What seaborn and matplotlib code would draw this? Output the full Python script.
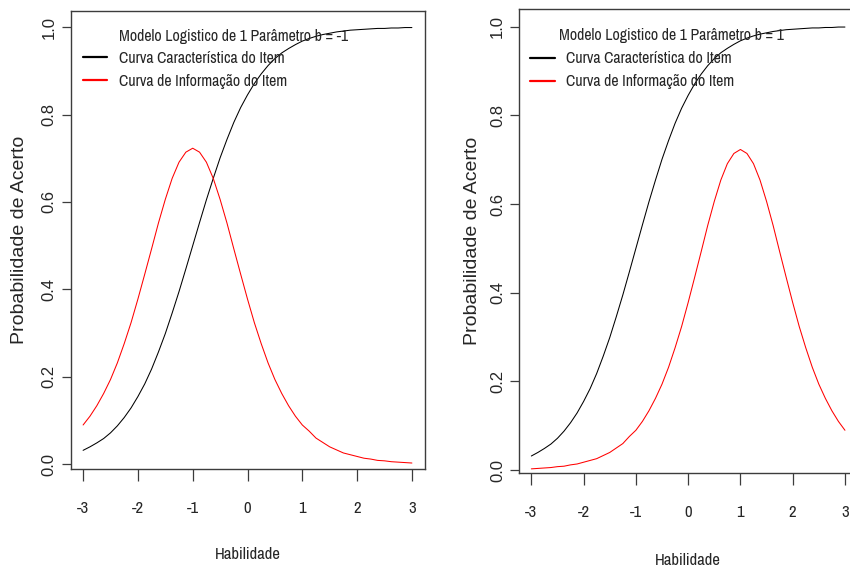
import matplotlib
matplotlib.use("Agg")
import matplotlib.pyplot as plt
import seaborn as sns
from matplotlib import font_manager

# ---------------- data ----------------
theta = [-3.0, -2.875, -2.75, -2.625, -2.5, -2.375, -2.25, -2.125, -2.0, -1.875, -1.75, -1.625,
         -1.5, -1.375, -1.25, -1.125, -1.0, -0.875, -0.75, -0.625, -0.5, -0.375, -0.25, -0.125,
         0.0, 0.125, 0.25, 0.375, 0.5, 0.625, 0.75, 0.875, 1.0, 1.125, 1.25, 1.375,
         1.5, 1.625, 1.75, 1.875, 2.0, 2.125, 2.25, 2.375, 2.5, 2.625, 2.75, 2.875, 3.0]
icc = [0.032, 0.040, 0.049, 0.059, 0.072, 0.088, 0.107, 0.129, 0.155, 0.184, 0.218, 0.257,
       0.299, 0.346, 0.395, 0.447, 0.500, 0.553, 0.605, 0.654, 0.701, 0.743, 0.782, 0.816,
       0.845, 0.871, 0.893, 0.912, 0.928, 0.941, 0.951, 0.960, 0.968, 0.974, 0.979, 0.983,
       0.986, 0.989, 0.991, 0.993, 0.994, 0.995, 0.996, 0.997, 0.997, 0.998, 0.998, 0.999, 0.999]
info_b_neg = [0.090, 0.110, 0.134, 0.162, 0.194, 0.232, 0.276, 0.324, 0.378, 0.435, 0.493, 0.552,
              0.606, 0.654, 0.691, 0.714, 0.723, 0.714, 0.691, 0.654, 0.606, 0.552, 0.493, 0.435,
              0.378, 0.324, 0.276, 0.232, 0.194, 0.162, 0.134, 0.110, 0.090, 0.076, 0.060, 0.050,
              0.040, 0.033, 0.026, 0.022, 0.018, 0.014, 0.012, 0.009, 0.008, 0.006, 0.005, 0.004, 0.003]
info_b_pos = [0.003, 0.004, 0.005, 0.006, 0.008, 0.009, 0.012, 0.014, 0.018, 0.022, 0.026, 0.033,
              0.040, 0.050, 0.060, 0.076, 0.090, 0.110, 0.134, 0.162, 0.194, 0.232, 0.276, 0.324,
              0.378, 0.435, 0.493, 0.552, 0.606, 0.654, 0.691, 0.714, 0.723, 0.714, 0.691, 0.654,
              0.606, 0.552, 0.493, 0.435, 0.378, 0.324, 0.276, 0.232, 0.194, 0.162, 0.134, 0.110, 0.090]

titles = ["Modelo Logistico de 1 Parâmetro b = -1", "Modelo Logistico de 1 Parâmetro b = 1"]
legend_labels = ["Curva Característica do Item", "Curva de Informação do Item"]
xticks = [-3, -2, -1, 0, 1, 2, 3]
xticklabels = ["-3", "-2", "-1", "0", "1", "2", "3"]
yticks = [0.0, 0.2, 0.4, 0.6, 0.8, 1.0]
yticklabels = ["0.0", "0.2", "0.4", "0.6", "0.8", "1.0"]
xlabel = "Habilidade"
ylabel = "Probabilidade de Acerto"

# ---------------- style ----------------
sns.set_style("white")


def pick(names, fallback):
    for name in names:
        try:
            font_manager.findfont(font_manager.FontProperties(family=name),
                                  fallback_to_default=False)
            return name
        except Exception:
            continue
    return fallback


regular = pick(["Liberation Sans", "Arimo"], "DejaVu Sans")
narrow = pick(["Liberation Sans Narrow", "Arial Narrow", "Archivo Narrow", "Roboto Condensed"], regular)
plt.rcParams["font.family"] = [regular, "DejaVu Sans"]

W, H = 850, 571
fig = plt.figure(figsize=(W / 100, H / 100), dpi=100)
fig.patch.set_facecolor("white")


def add_axes(l, t, r, b):
    return fig.add_axes([l / W, 1 - b / H, (r - l) / W, (b - t) / H])


panels = [
    dict(ax=add_axes(70.5, 10.5, 424.5, 468.7), info=info_b_neg, title=titles[0],
         xlim=(-3.23, 3.23), ylim=(-0.010, 1.038),
         leg_anchor=(0.035, 0.9116), title_xy=(0.462, 0.944),
         xlab_y=-0.187, ylab_x=-0.143),
    dict(ax=add_axes(518.8, 9.3, 857.5, 473.3), info=info_b_pos, title=titles[1],
         xlim=(-3.24, 3.24), ylim=(-0.007, 1.039),
         leg_anchor=(0.033, 0.9095), title_xy=(0.452, 0.9425),
         xlab_y=-0.189, ylab_x=-0.138),
]

frame_col = "#3c3c3c"
nsize = 11.4

for p in panels:
    ax = p["ax"]
    sns.lineplot(x=theta, y=icc, color="black", lw=0.75, ax=ax, label=legend_labels[0])
    sns.lineplot(x=theta, y=p["info"], color="red", lw=0.75, ax=ax, label=legend_labels[1])

    ax.set_xlim(*p["xlim"])
    ax.set_ylim(*p["ylim"])
    ax.set_xticks(xticks)
    ax.set_xticklabels(xticklabels, fontfamily=narrow, fontsize=nsize + 0.6)
    ax.set_yticks(yticks)
    ax.set_yticklabels(yticklabels, fontsize=12, rotation=90, va="center")

    ax.tick_params(axis="x", direction="out", length=8.6, width=0.9, color=frame_col,
                   pad=14.5, bottom=True)
    ax.tick_params(axis="y", direction="out", length=6.5, width=0.9, color=frame_col,
                   pad=3.5, left=True)
    for s in ax.spines.values():
        s.set_visible(True)
        s.set_color(frame_col)
        s.set_linewidth(1.0)

    ax.set_xlabel(xlabel, fontfamily=narrow, fontsize=nsize + 0.6)
    ax.xaxis.label.set_va("center")
    ax.xaxis.set_label_coords(0.5, p["xlab_y"])
    ax.set_ylabel(ylabel, fontsize=14)
    ax.yaxis.label.set_va("center")
    ax.yaxis.set_label_coords(p["ylab_x"], 0.5)

    leg = ax.legend(loc="upper left", bbox_to_anchor=p["leg_anchor"], frameon=False,
                    prop={"family": narrow, "size": nsize}, handlelength=1.55,
                    handletextpad=0.75, labelspacing=0.5, borderpad=0, borderaxespad=0)
    for h in leg.get_lines():
        h.set_linewidth(1.6)
    ax.text(p["title_xy"][0], p["title_xy"][1], p["title"], transform=ax.transAxes,
            ha="center", va="center", fontfamily=narrow, fontsize=nsize)

fig.savefig("out.png", dpi=100, facecolor="white")
